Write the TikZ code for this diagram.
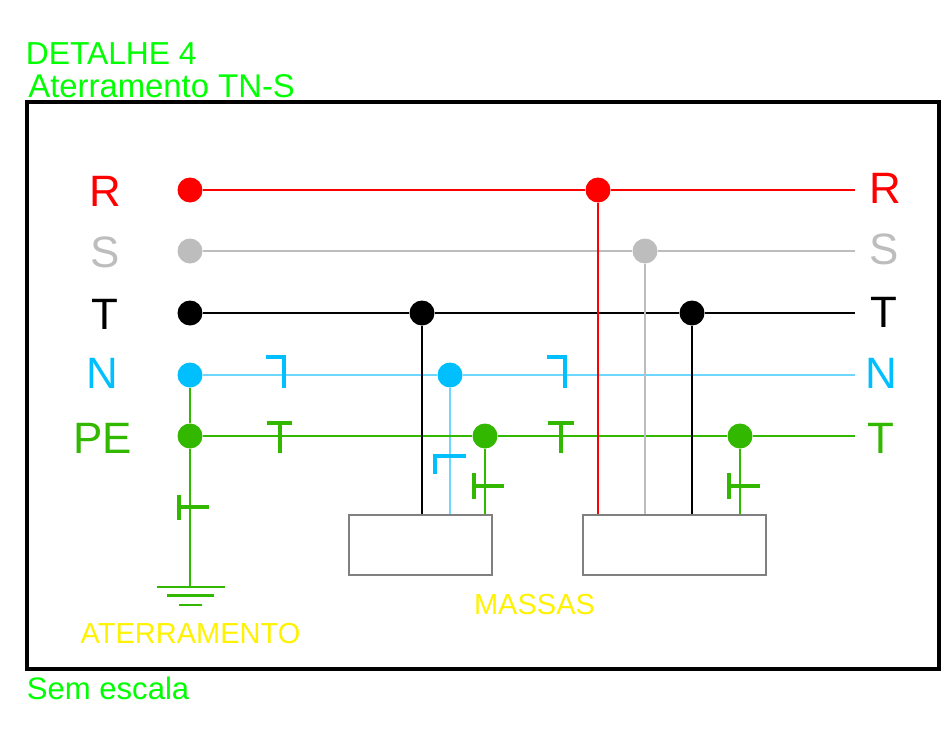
\documentclass[tikz,border=0pt]{standalone}
\usepackage{fontspec}
\setmainfont{Liberation Sans}
\tikzset{
  dot/.style={circle,fill=#1,inner sep=0pt,minimum size=0.5cm},
  wire/.style={draw=#1,line width=0.85pt},
  tick/.style={draw=#1,line width=2.2pt},
  caixa/.style={draw=boxgray,line width=1pt,fill=white,rectangle,inner sep=0pt},
  title/.style={text=titlegreen,anchor=west,inner sep=0pt},
  cond/.style={text=#1,inner sep=0pt,font=\fontsize{25}{25}\selectfont},
  note/.style={text=yellow,inner sep=0pt,font=\fontsize{16.5}{16.5}\selectfont}
}
\definecolor{titlegreen}{RGB}{0,255,0}
\definecolor{peg}{RGB}{51,184,0}
\definecolor{ncy}{RGB}{0,191,255}
\definecolor{ncyl}{RGB}{110,215,255}
\definecolor{sgr}{RGB}{189,189,189}
\definecolor{boxgray}{RGB}{128,128,128}
\begin{document}
\begin{tikzpicture}[x=0.02cm,y=-0.02cm]
  \useasboundingbox (0,0) rectangle (946,734);

  % titles
  \node[title,font=\fontsize{18.1}{18.1}\selectfont] (detalhe) at (25.5,54) {DETALHE 4};
  \node[title,font=\fontsize{18.7}{18.7}\selectfont] (tipo) at (28,86) {Aterramento TN-S};
  \node[title,font=\fontsize{17.7}{17.7}\selectfont] (escala) at (26.5,688) {Sem escala};

  % frame
  \draw [black,line width=1.8pt] (27,102) rectangle (939,669);

  % boxes
  \node[caixa,minimum width=2.86cm,minimum height=1.2cm] (box1) at (420.5,545) {};
  \node[caixa,minimum width=3.66cm,minimum height=1.2cm] (box2) at (674.5,545) {};

  % dots
  \node[dot=red] (r0) at (190,190) {};
  \node[dot=red] (r1) at (598,190) {};
  \node[dot=sgr] (s0) at (190,251) {};
  \node[dot=sgr] (s1) at (645,251) {};
  \node[dot=black] (t0) at (190,313) {};
  \node[dot=black] (t1) at (422,313) {};
  \node[dot=black] (t2) at (692,313) {};
  \node[dot=ncy] (n0) at (190,375) {};
  \node[dot=ncy] (n1) at (450,375) {};
  \node[dot=peg] (pe0) at (190,436) {};
  \node[dot=peg] (pe1) at (485,436) {};
  \node[dot=peg] (pe2) at (740,436) {};

  % free ends
  \coordinate (rend) at (855,190);
  \coordinate (send) at (855,251);
  \coordinate (tend) at (855,313);
  \coordinate (nend) at (855,375);
  \coordinate (peend) at (855,436);
  \coordinate (terra) at (190,587);

  % n, s
  \draw [wire=ncyl] (n0) -- (n1);
  \draw [wire=ncyl] (n1) -- (nend);
  \draw [wire=ncyl] (n1) -- (n1 |- box1.north);
  \draw [wire=sgr] (s0) -- (s1);
  \draw [wire=sgr] (s1) -- (send);
  % pe
  \draw [wire=peg] (n0) -- (pe0);
  \draw [wire=peg] (pe0) -- (pe1);
  \draw [wire=peg] (pe1) -- (pe2);
  \draw [wire=peg] (pe2) -- (peend);
  \draw [wire=peg] (pe0) -- (terra);
  \draw [wire=peg] (pe1) -- (pe1 |- box1.north);
  \draw [wire=peg] (pe2) -- (pe2 |- box2.north);
  % r, t
  \draw [wire=red] (r0) -- (r1);
  \draw [wire=red] (r1) -- (rend);
  \draw [wire=black] (t0) -- (t1);
  \draw [wire=black] (t1) -- (t2);
  \draw [wire=black] (t2) -- (tend);
  % |
  \draw [wire=red,line width=1.1pt] (r1) -- (r1 |- box2.north);
  \draw [wire=sgr,line width=1.1pt] (s1) -- (s1 |- box2.north);
  \draw [wire=black,line width=1.1pt] (t1) -- (t1 |- box1.north);
  \draw [wire=black,line width=1.1pt] (t2) -- (t2 |- box2.north);

  % ground
  \draw [wire=peg,line width=1.4pt] (157,587) -- (225,587);
  \draw [wire=peg,line width=1.4pt] (167,595.5) -- (214,595.5);
  \draw [wire=peg,line width=1.4pt] (179,605) -- (202,605);

  % conductor marks
  \draw [tick=ncy] (266,357) -- (284,357) -- (284,388);
  \draw [tick=ncy] (547,357) -- (565,357) -- (565,388);
  \draw [tick=ncy] (435,474) -- (435,456) -- (466,456);
  \draw [tick=peg] (267,423) -- (292,423) (280,423) -- (280,453);
  \draw [tick=peg] (548,423) -- (574,423) (561,423) -- (561,453);
  \draw [tick=peg] (179,495) -- (179,520) (179,507) -- (209,507);
  \draw [tick=peg] (474,473) -- (474,499) (474,486) -- (504,486);
  \draw [tick=peg] (729,473) -- (729,499) (729,486) -- (760,486);

  % label
  \node[cond=red] (lr) at (105.5,191) {R};
  \node[cond=sgr] (ls) at (105,252) {S};
  \node[cond=black] (lt) at (105,314) {T};
  \node[cond=ncy] (ln) at (102,373) {N};
  \node[cond=peg] (lpe) at (102.5,438) {PE};
  \node[cond=red] (rr) at (885,188) {R};
  \node[cond=sgr] (rs) at (884,249) {S};
  \node[cond=black] (rt) at (884,312) {T};
  \node[cond=ncy] (rn) at (881,373) {N};
  \node[cond=peg] (rpe) at (881,438) {T};
  \node[note] (massas) at (534.5,605) {MASSAS};
  \node[note] (aterr) at (190.5,634) {ATERRAMENTO};
\end{tikzpicture}
\end{document}
